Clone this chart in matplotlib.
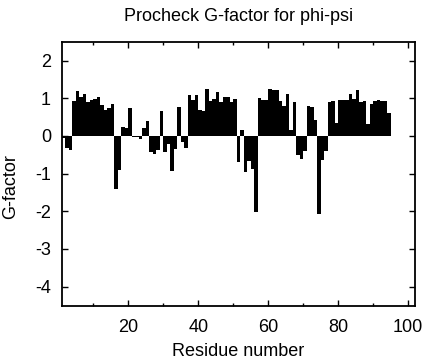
import matplotlib
matplotlib.use("Agg")
import matplotlib.pyplot as plt
from matplotlib.ticker import MultipleLocator

plt.rcParams['font.family'] = ['Liberation Sans', 'DejaVu Sans']
plt.rcParams['axes.unicode_minus'] = False

residues = list(range(1, 95))
gfactor = [
    -0.05, -0.32, -0.37, 0.93, 1.20, 1.03, 1.12, 0.90, 0.95, 0.98,   # 1-10
    1.02, 0.82, 0.68, 0.75, 0.85, -1.40, -0.90, 0.23, 0.20, 0.75,    # 11-20
    -0.02, -0.03, -0.08, 0.21, 0.40, -0.43, -0.47, -0.38, 0.67, -0.44,  # 21-30
    -0.22, -0.94, -0.35, 0.78, -0.15, -0.32, 1.08, 0.96, 1.08, 0.68,  # 31-40
    0.67, 1.25, 0.93, 0.97, 1.17, 0.89, 1.02, 1.02, 0.89, 0.99,      # 41-50
    -0.70, 0.15, -0.97, -0.67, -0.87, -2.02, 1.00, 0.96, 0.96, 1.25,  # 51-60
    1.23, 1.23, 0.92, 0.80, 1.10, 0.16, 0.90, -0.50, -0.60, -0.41,   # 61-70
    0.80, 0.78, 0.42, -2.08, -0.65, -0.41, 0.89, 0.93, 0.33, 0.96,   # 71-80
    0.96, 0.95, 1.12, 0.98, 1.23, 0.90, 0.93, 0.32, 0.86, 0.93,      # 81-90
    0.96, 0.93, 0.92, 0.60,                                          # 91-94
]

title = "Procheck G-factor for phi-psi"
xlabel = "Residue number"
ylabel = "G-factor"

fig = plt.figure(figsize=(4.29, 3.60), dpi=100)
ax = fig.add_axes([62/429, 1-305.5/360, (415-62)/429, (305.5-41.7)/360])

ax.bar(residues, gfactor, width=1.0, align='edge', color='black',
       edgecolor='none', linewidth=0)

ax.set_xlim(1, 102)
ax.set_ylim(-4.5, 2.5)
ax.xaxis.set_major_locator(MultipleLocator(20))
ax.xaxis.set_minor_locator(MultipleLocator(10))
ax.yaxis.set_major_locator(MultipleLocator(1))
ax.set_xticks([20, 40, 60, 80, 100])

ax.tick_params(which='both', direction='in', top=True, right=True,
               labelsize=13, colors='black')
ax.tick_params(which='major', length=4.3, width=1.0)
ax.tick_params(which='minor', length=2.2, width=1.0)
ax.tick_params(axis='x', pad=9.5)
ax.tick_params(axis='y', pad=8)
for s in ax.spines.values():
    s.set_linewidth(1.3)

ax.set_title(title, fontsize=13, pad=14.9)
ax.set_xlabel(xlabel, fontsize=13, va='baseline')
ax.xaxis.set_label_coords(0.5, -0.192)
ax.set_ylabel(ylabel, fontsize=13, va='center')
ax.yaxis.set_label_coords(-0.146, 0.451)

fig.savefig("out.png", dpi=100)
